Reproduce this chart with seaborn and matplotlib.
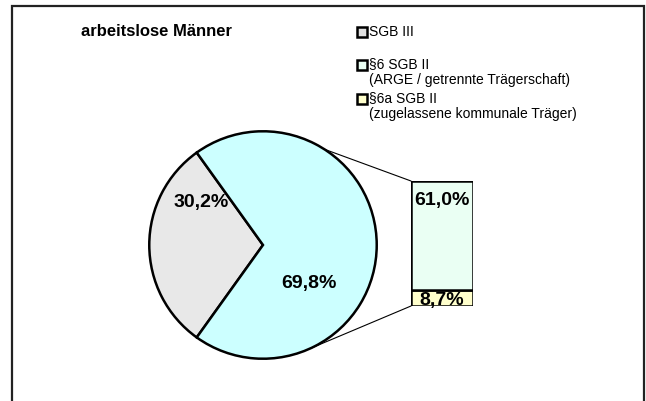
import matplotlib
matplotlib.use("Agg")
import matplotlib.pyplot as plt
from matplotlib.patches import ConnectionPatch, Rectangle
import numpy as np
import seaborn as sns

# ---- data ----
title = "arbeitslose Männer"
pie_labels = ["SGB III", "SGB II gesamt"]
pie_values = [30.2, 69.8]
bar_labels = ["§6a SGB II", "§6 SGB II"]
bar_values = [8.7, 61.0]
legend_labels = ["SGB III",
                 "§6 SGB II\n(ARGE / getrennte Trägerschaft)",
                 "§6a SGB II\n(zugelassene kommunale Träger)"]

pie_colors = ["#E8E8E8", "#CCFFFF"]
bar_colors = ["#FFFFCC", "#EAFFF3"]
legend_colors = ["#E0E0E0", "#EAFFF3", "#FFFFCC"]

sns.set_theme(style="white")
plt.rcParams["font.family"] = ["Liberation Sans", "DejaVu Sans"]
plt.rcParams["text.color"] = "black"

W, H = 646, 401
fig = plt.figure(figsize=(W / 100, H / 100), dpi=100)
fig.patch.set_facecolor("white")

def rect(x0, y0, x1, y1):
    return [x0 / W, 1 - y1 / H, (x1 - x0) / W, (y1 - y0) / H]

# frame (open at the bottom)
frame = fig.add_axes([0, 0, 1, 1])
frame.set_xlim(0, W); frame.set_ylim(H, 0); frame.axis("off")
frame.plot([11.5, 11.5, 644, 644], [H + 5, 6, 6, H + 5], color="#222222", lw=1.6,
           solid_joinstyle="miter")

# title
fig.text(81 / W, 1 - 31 / H, title, fontsize=12, fontweight="bold", va="center", ha="left")

# legend
legend_y = [32, 65, 99]
for lab, col, yy in zip(legend_labels, legend_colors, legend_y):
    frame.add_patch(Rectangle((357, yy - 5), 10, 10, facecolor=col, edgecolor="black", lw=1.8))
    frame.text(369, yy - 7.5, lab, fontsize=10, va="top", ha="left", linespacing=1.1)

# pie
cx, cy, r = 263, 245, 116
ax_pie = fig.add_axes(rect(cx - r, cy - r, cx + r, cy + r))
start = 180 - pie_values[0] * 3.6 / 2
wedges, _ = ax_pie.pie(pie_values, colors=pie_colors, startangle=start, counterclock=True,
                       radius=1, wedgeprops=dict(edgecolor="black", linewidth=1.8))
ax_pie.set_xlim(-1.02, 1.02); ax_pie.set_ylim(-1.02, 1.02)
ax_pie.set_aspect("equal"); ax_pie.axis("off")
ax_pie.text((200 - cx) / r, (cy - 202) / r, "30,2%", fontsize=14, fontweight="bold",
            ha="center", va="center")
ax_pie.text((310 - cx) / r, (cy - 284) / r, "69,8%", fontsize=14, fontweight="bold",
            ha="center", va="center")

# stacked bar (split of SGB II)
ax_bar = fig.add_axes(rect(411, 181, 473, 306))
total = sum(bar_values)
bottom = 0
for v, c in zip(bar_values, bar_colors):
    ax_bar.bar(0, v, bottom=bottom, width=1, color=c, edgecolor="black", linewidth=1.8)
    bottom += v
ax_bar.set_xlim(-0.5, 0.5); ax_bar.set_ylim(0, total)
ax_bar.axis("off")
ax_bar.text(0, bar_values[0] / 2 - 1.2, "8,7%", fontsize=14, fontweight="bold",
            ha="center", va="center")
ax_bar.text(0, total - 11, "61,0%", fontsize=14, fontweight="bold",
            ha="center", va="center")

# connector lines
for ang, yb in [(57.4, total), (-66.3, 0)]:
    p = (np.cos(np.radians(ang)), np.sin(np.radians(ang)))
    con = ConnectionPatch(xyA=(-0.5, yb), coordsA=ax_bar.transData,
                          xyB=p, coordsB=ax_pie.transData, color="black", lw=0.8)
    fig.add_artist(con)

fig.savefig("out.png", dpi=100)
